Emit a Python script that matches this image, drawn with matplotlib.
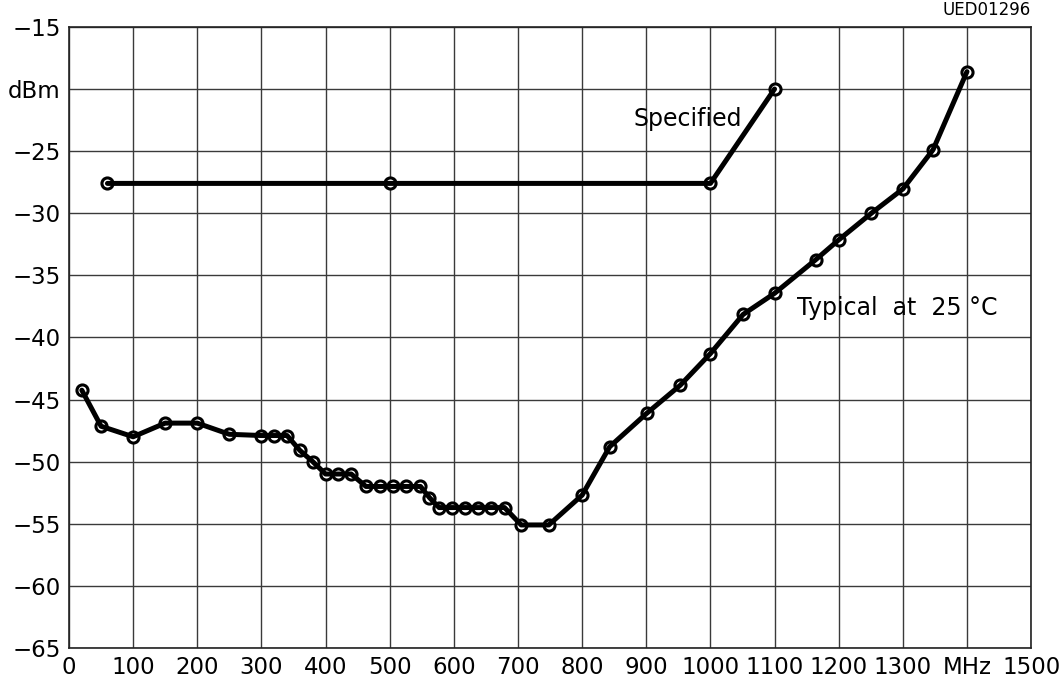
import matplotlib
matplotlib.use("Agg")
import matplotlib.pyplot as plt

plt.rcParams['font.family'] = ['DejaVu Sans']

# Typical at 25 C
typ_mhz = [20, 50, 100, 150, 200, 250, 300, 320, 340, 360, 380, 400, 420, 440,
           463, 485, 505, 526, 548, 562, 577, 597, 618, 638, 658, 679,
           705, 748, 800, 843, 901, 953, 1000, 1051, 1100, 1164, 1200, 1251,
           1300, 1347, 1400]
typ_dbm = [-44.25, -47.15, -48.0, -46.9, -46.9, -47.8, -47.9, -47.9, -47.9, -49.1,
           -50.0, -51.0, -51.0, -51.0, -52.0, -52.0, -52.0, -52.0, -52.0, -52.9,
           -53.7, -53.7, -53.7, -53.7, -53.7, -53.7, -55.1, -55.1, -52.7, -48.8,
           -46.1, -43.85, -41.3, -38.15, -36.45, -33.75, -32.15, -30.0,
           -28.05, -24.9, -18.6]

# Specified
spec_mhz = [60, 500, 1000, 1100]
spec_dbm = [-27.6, -27.6, -27.6, -20.0]

x_ticks = list(range(0, 1501, 100))
x_labels = [str(v) for v in x_ticks]
x_labels[14] = 'MHz'
y_ticks = list(range(-65, -14, 5))
y_labels = ['\u2212' + str(-v) for v in y_ticks]
y_labels[y_ticks.index(-20)] = 'dBm'

fig = plt.figure(figsize=(10.63, 6.90), dpi=100)
ax = fig.add_axes([0.0649, 0.061, 0.9051, 0.900])

for xs, ys in [(typ_mhz, typ_dbm), (spec_mhz, spec_dbm)]:
    ax.plot(xs, ys, linestyle='none', marker='o', markersize=8,
            markerfacecolor='white', markeredgecolor='black',
            markeredgewidth=2.2, zorder=3)
    ax.plot(xs, ys, color='black', linewidth=3.6, solid_joinstyle='round',
            solid_capstyle='round', zorder=4)

ax.set_xlim(0, 1500)
ax.set_ylim(-65, -15)
ax.set_xticks(x_ticks)
ax.set_xticklabels(x_labels)
ax.set_yticks(y_ticks)
ax.set_yticklabels(y_labels)
ax.tick_params(length=0, labelsize=16.5, pad=6)
ax.grid(True, color='#3a3a3a', linewidth=1.0)
for s in ax.spines.values():
    s.set_color('#222222')
    s.set_linewidth(1.2)

ax.text(880, -22.4, 'Specified', fontsize=17, va='center', ha='left')
ax.text(1135, -37.65, 'Typical  at  25 \u00b0C', fontsize=17, va='center', ha='left')
ax.text(1.0, 1.012, 'UED01296', transform=ax.transAxes, fontsize=12,
        ha='right', va='bottom')

fig.savefig('out.png', dpi=100)
